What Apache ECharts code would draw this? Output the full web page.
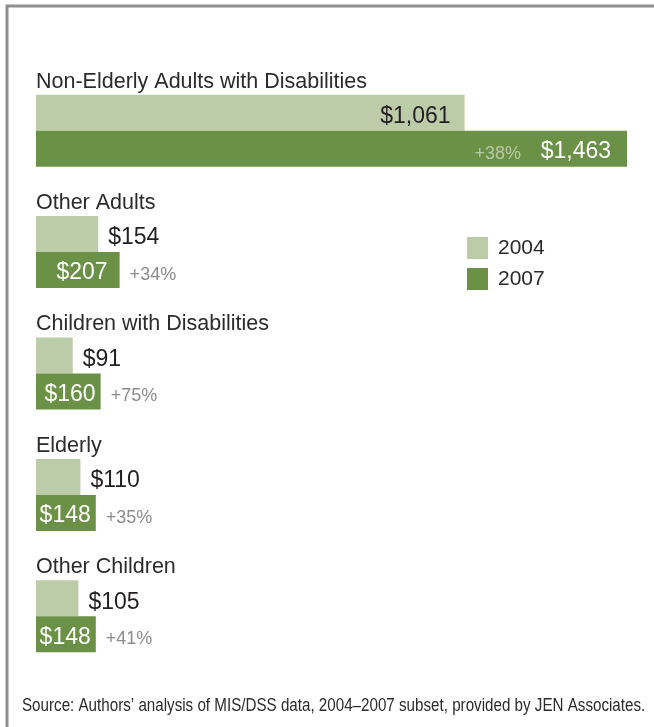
<!DOCTYPE html>
<html>
<head>
<meta charset="utf-8">
<script src="https://cdn.jsdelivr.net/npm/echarts@6/dist/echarts.min.js"></script>
<style>
  html, body { margin: 0; padding: 0; background: #ffffff; }
  #chart { width: 654px; height: 727px; }
</style>
</head>
<body>
<div id="chart"></div>
<script>
// Average monthly spending per enrollee, by group
const categories = [
  'Non-Elderly Adults with Disabilities',
  'Other Adults',
  'Children with Disabilities',
  'Elderly',
  'Other Children'
];
const years = ['2004', '2007'];
const values2004 = [1061, 154, 91, 110, 105];
const values2007 = [1463, 207, 160, 148, 148];
const pctChange = ['+38%', '+34%', '+75%', '+35%', '+41%'];
const sourceNote = 'Source: Authors\u2019 analysis of MIS/DSS data, 2004\u20132007 subset, provided by JEN Associates.';

const LIGHT = '#bccca9';
const DARK = '#6a9146';
const TEXT = '#231f20';
const FONT = '"Liberation Sans", Arial, sans-serif';

const GRID_LEFT = 36;
const GRID_RIGHT = 27;
const GRID_TOP = 70;
const GRID_HEIGHT = 607;
const BAR = 36;
const X_MAX = 1463;
const PX_PER_UNIT = (654 - GRID_LEFT - GRID_RIGHT) / X_MAX;

const money = v => '$' + v.toLocaleString('en-US');

const chart = echarts.init(document.getElementById('chart'), null, { renderer: 'canvas' });

// 2004 labels: inside the wide bar, to the right of the short ones
const data2004 = values2004.map(v => {
  const wide = v * PX_PER_UNIT > 300;
  return {
    value: v,
    label: {
      position: wide ? 'insideRight' : 'right',
      distance: wide ? 14 : 10
    }
  };
});

// 2007 labels: always inside, white
const data2007 = values2007.map(v => {
  const px = v * PX_PER_UNIT;
  return {
    value: v,
    label: {
      position: 'insideRight',
      distance: px > 300 ? 16 : (px > 75 ? 12 : 5)
    }
  };
});

const option = {
  animation: false,
  backgroundColor: '#ffffff',
  grid: {
    left: GRID_LEFT,
    right: GRID_RIGHT,
    top: GRID_TOP,
    height: GRID_HEIGHT,
    containLabel: false
  },
  legend: {
    data: years,
    orient: 'vertical',
    left: 467,
    top: 237,
    padding: 0,
    itemWidth: 21,
    itemHeight: 22,
    itemGap: 9,
    icon: 'rect',
    selectedMode: false,
    textStyle: {
      fontFamily: FONT,
      fontSize: 21,
      color: '#2b2b2b',
      padding: [0, 0, 0, 5]
    }
  },
  xAxis: {
    type: 'value',
    min: 0,
    max: X_MAX,
    show: false
  },
  yAxis: {
    type: 'category',
    data: categories,
    inverse: true,
    axisLine: { show: false },
    axisTick: { show: false },
    splitLine: { show: false },
    axisLabel: { show: false }
  },
  series: [
    {
      name: years[0],
      type: 'bar',
      data: data2004,
      barWidth: BAR,
      barGap: '0%',
      itemStyle: { color: LIGHT },
      label: {
        show: true,
        formatter: p => money(p.value),
        fontFamily: FONT,
        fontSize: 23,
        color: TEXT,
        offset: [0, 4]
      }
    },
    {
      name: years[1],
      type: 'bar',
      data: data2007,
      barWidth: BAR,
      barGap: '0%',
      itemStyle: { color: DARK },
      label: {
        show: true,
        formatter: p => money(p.value),
        fontFamily: FONT,
        fontSize: 23,
        color: '#ffffff',
        offset: [0, 3]
      }
    },
    {
      // group name above each pair of bars
      name: 'groups',
      type: 'custom',
      coordinateSystem: 'cartesian2d',
      encode: { x: 0, y: 1 },
      z: 5,
      silent: true,
      data: categories.map((c, i) => [0, i]),
      renderItem: function (params, api) {
        const start = api.coord([0, api.value(1)]);
        return {
          type: 'text',
          x: start[0],
          y: start[1] - 49,
          style: {
            text: categories[params.dataIndex],
            fill: '#2b2b2b',
            font: '21.5px ' + FONT,
            align: 'left',
            verticalAlign: 'middle'
          }
        };
      }
    },
    {
      // percent change beside (or inside) each 2007 bar
      name: 'change',
      type: 'custom',
      coordinateSystem: 'cartesian2d',
      encode: { x: 0, y: 1 },
      z: 5,
      silent: true,
      data: values2007.map((v, i) => [v, i]),
      renderItem: function (params, api) {
        const i = params.dataIndex;
        const end = api.coord([api.value(0), api.value(1)]);
        const inside = end[0] - GRID_LEFT > 300;
        return {
          type: 'text',
          x: inside ? end[0] - 106 : end[0] + 10,
          y: end[1] + BAR / 2 + 5,
          style: {
            text: pctChange[i],
            fill: inside ? '#b9caa6' : '#8c8c8c',
            font: '18px ' + FONT,
            align: inside ? 'right' : 'left',
            verticalAlign: 'middle'
          }
        };
      }
    }
  ],
  graphic: [
    {
      type: 'polyline',
      shape: { points: [[7, 727], [7, 6], [654, 6]] },
      style: { stroke: '#8e8e8e', lineWidth: 3, fill: null },
      silent: true
    },
    {
      type: 'text',
      x: 22,
      y: 706,
      scaleX: 0.867,
      style: {
        text: sourceNote,
        font: '17.5px "Liberation Sans", sans-serif',
        fill: '#2b2b2b',
        align: 'left',
        verticalAlign: 'middle'
      }
    }
  ]
};

chart.setOption(option);
</script>
</body>
</html>
